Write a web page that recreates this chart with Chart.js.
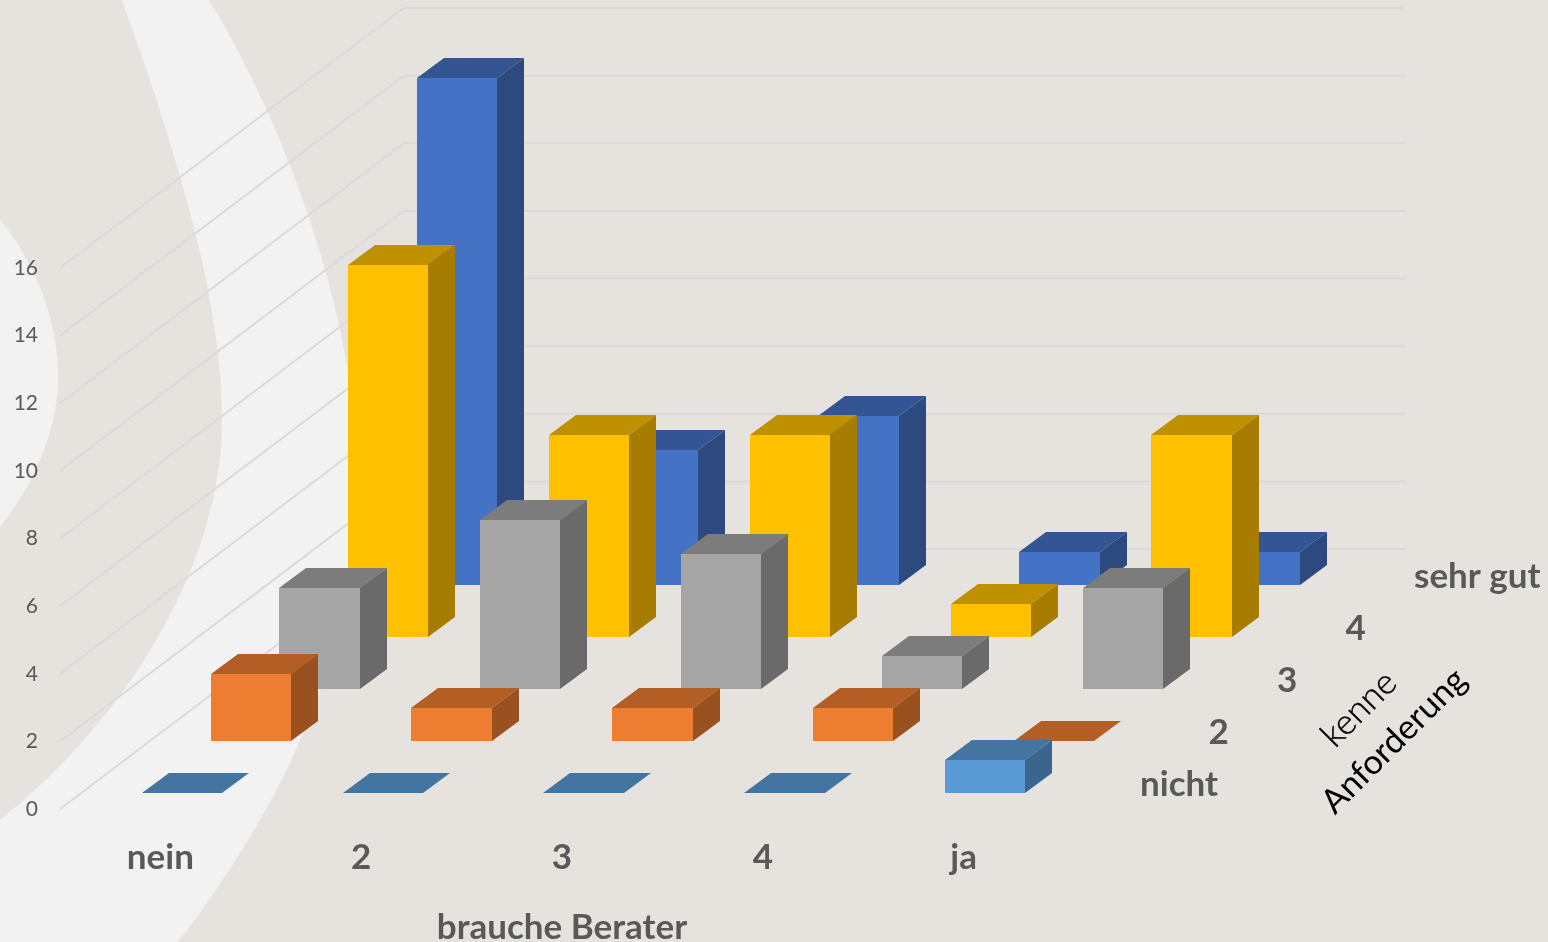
<!DOCTYPE html>
<html>
<head>
<meta charset="utf-8">
<title>brauche Berater / kenne Anforderung</title>
<script src="https://cdn.jsdelivr.net/npm/chart.js@4"></script>
<style>
  html, body { margin: 0; padding: 0; background: #e6e3df; overflow: hidden; }
  #wrap { position: relative; width: 1548px; height: 942px; }
  #bg { position: absolute; left: 0; top: 0; }
  #chart { position: absolute; left: 0; top: 0; }
</style>
</head>
<body>
<div id="wrap">
  <svg id="bg" width="1548" height="942">
    <path fill="#f3f2f3" d="M122,0 C170,135 222,290 222,420 C222,570 120,725 0,820 L0,942 L178,942 C280,810 352,660 358,500 C362,320 280,115 209,0 Z"/>
    <path fill="#f3f2f3" d="M0,220 C38,265 58,325 58,377 C58,430 35,482 0,527 Z"/>
  </svg>
  <canvas id="chart" width="1548" height="942"></canvas>
</div>
<script>
const categories = ['nein', '2', '3', '4', 'ja'];
const depthLabels = ['nicht', '2', '3', '4', 'sehr gut'];

const nicht = [0, 0, 0, 0, 1];
const zwei = [2, 1, 1, 1, 0];
const drei = [3, 5, 4, 1, 3];
const vier = [11, 6, 6, 1, 6];
const sehrGut = [15, 4, 5, 1, 1];

const seriesValues = [nicht, zwei, drei, vier, sehrGut];
const seriesColors = ['#5b9bd5', '#ed7d31', '#a5a5a5', '#ffc000', '#4472c4'];
const topColors = ['#4475a0', '#b25e25', '#7c7c7c', '#bf9000', '#335593'];
const sideColors = ['#3a658c', '#9a5120', '#6a6a6a', '#a67d00', '#2c4a7f'];

// projection of one depth slot on the screen
const SLOT_X = 68.75;
const SLOT_Y = -52;
const BAR_DEPTH = 0.4;

const poly = (ctx, color, points) => {
  ctx.fillStyle = color;
  ctx.beginPath();
  points.forEach(([x, y], i) => (i ? ctx.lineTo(x, y) : ctx.moveTo(x, y)));
  ctx.closePath();
  ctx.fill();
};

class Bar3DController extends Chart.BarController {
  draw() {
    const ctx = this.chart.ctx;
    const i = this.index;
    const dx = Math.floor(SLOT_X * BAR_DEPTH);
    const dy = Math.ceil(SLOT_Y * BAR_DEPTH);
    const gap = (1 - BAR_DEPTH) / 2;
    const ox = SLOT_X * (i + gap) + 1;
    const oy = SLOT_Y * (i + gap);

    for (const bar of this.getMeta().data) {
      const { x, y, base, width } = bar.getProps(['x', 'y', 'base', 'width'], true);
      // whole pixels, so nothing shines through between the faces
      const l = Math.round(x - width / 2 + ox);
      const r = Math.round(x + width / 2 + ox);
      const t = Math.round(y + oy);
      const b = Math.round(base + oy);

      poly(ctx, topColors[i], [[l, t], [l + dx, t + dy], [r + dx, t + dy], [r, t]]);
      if (b - t > 0) {
        poly(ctx, sideColors[i], [[r, t], [r + dx, t + dy], [r + dx, b + dy], [r, b]]);
        poly(ctx, seriesColors[i], [[l, t], [r, t], [r, b], [l, b]]);
      }
    }
  }
}
Bar3DController.id = 'bar3d';
Bar3DController.defaults = Chart.BarController.defaults;
Bar3DController.overrides = Chart.BarController.overrides;
Chart.register(Bar3DController);

// side wall and back wall lines, taken from the value axis ticks
const wallGrid = {
  id: 'wallGrid',
  beforeDatasetsDraw(chart) {
    const { ctx, scales: { x, y } } = chart;
    const wallX = SLOT_X * depthLabels.length;
    const wallY = SLOT_Y * depthLabels.length;

    ctx.save();
    ctx.strokeStyle = '#dadada';
    ctx.lineWidth = 2;
    for (const tick of y.ticks) {
      const py = y.getPixelForValue(tick.value);
      ctx.beginPath();
      ctx.moveTo(x.left, py);
      ctx.lineTo(x.left + wallX, py + wallY);
      ctx.lineTo(x.right + wallX - 2, py + wallY);
      ctx.stroke();
    }
    ctx.restore();
  },
};

// depth axis labels and the two rotated title lines
const depthAxis = {
  id: 'depthAxis',
  afterDatasetsDraw(chart) {
    const { ctx, scales: { x, y } } = chart;

    ctx.save();
    ctx.font = 'bold 35px Lato';
    ctx.fillStyle = '#595959';
    ctx.textAlign = 'left';
    ctx.textBaseline = 'middle';
    depthLabels.forEach((label, i) => {
      ctx.fillText(label, x.right + 76 + 68.5 * i, y.getPixelForValue(0) - 24 + SLOT_Y * i);
    });

    ctx.fillStyle = '#000';
    ctx.strokeStyle = '#000';
    ctx.lineWidth = 0.4;
    ctx.textAlign = 'center';
    ctx.save();
    ctx.translate(1359, 709);
    ctx.rotate(-Math.PI / 4);
    ctx.font = '300 35px Lato';
    ctx.fillText('kenne', 0, 0);
    ctx.strokeText('kenne', 0, 0);
    ctx.restore();
    ctx.translate(1394, 741);
    ctx.rotate(-Math.PI / 4);
    ctx.font = '34px Lato';
    ctx.fillText('Anforderung', 0, 0);
    ctx.restore();
  },
};

window.onload = () => {
  new Chart(document.getElementById('chart'), {
    type: 'bar3d',
    data: {
      labels: categories,
      datasets: seriesValues.map((data, i) => ({
        label: depthLabels[i],
        data,
        backgroundColor: seriesColors[i],
        clip: false,
        grouped: false,
        barPercentage: 0.4,
        categoryPercentage: 1,
      })),
    },
    options: {
      responsive: false,
      animation: false,
      layout: { padding: { top: 268, right: 484, left: 0, bottom: 0 } },
      plugins: { legend: { display: false }, tooltip: { enabled: false } },
      scales: {
        x: {
          type: 'category',
          grid: { display: false, drawTicks: false },
          border: { display: false },
          afterFit: (scale) => { scale.height = 133; },
          ticks: {
            maxRotation: 0,
            padding: 28,
            color: '#595959',
            font: { family: 'Lato', size: 35, weight: 'bold' },
          },
          title: {
            display: true,
            text: 'brauche Berater',
            color: '#595959',
            padding: { top: 0, bottom: -3 },
            font: { family: 'Lato', size: 35, weight: 'bold', lineHeight: 1 },
          },
        },
        y: {
          type: 'linear',
          min: 0,
          max: 16,
          grid: { display: false, drawTicks: false },
          border: { display: false },
          afterFit: (scale) => { scale.width = 60; },
          ticks: {
            stepSize: 2,
            padding: 22,
            color: '#595959',
            font: { family: 'Lato', size: 21 },
          },
        },
      },
    },
    plugins: [wallGrid, depthAxis],
  });
};
</script>
</body>
</html>
